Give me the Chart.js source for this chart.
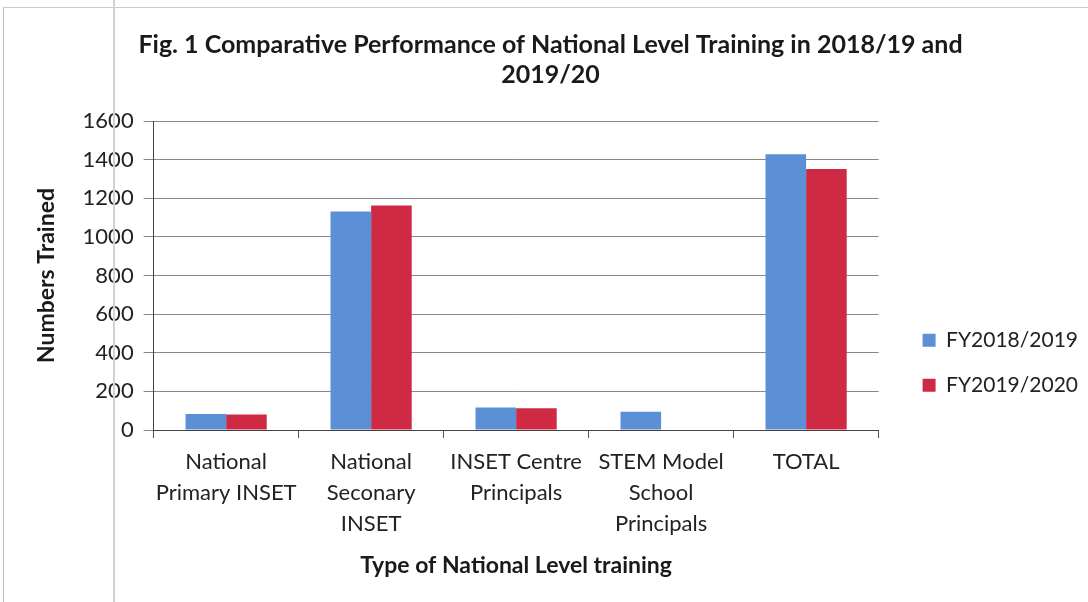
<!DOCTYPE html>
<html>
<head>
<meta charset="utf-8">
<script src="https://cdn.jsdelivr.net/npm/chart.js@4"></script>
<style>
  html, body { margin: 0; padding: 0; background: #fff; }
  #wrap { position: relative; width: 1088px; height: 602px; }
  #frame { position: absolute; left: 3px; top: 7px; width: 1085px; height: 600px; border-left: 1px solid #bbb; border-top: 1px solid #ccc; box-sizing: border-box; pointer-events: none; }
  #scan { position: absolute; left: 113px; top: 0; width: 2px; height: 602px; background: #d8cfd6; pointer-events: none; }
</style>
</head>
<body>
<div id="wrap">
  <canvas id="outputChart" width="1088" height="602"></canvas>
  <div id="frame"></div>
  <div id="scan"></div>
</div>
<script>
const categories = [
  ["National", "Primary INSET"],
  ["National", "Seconary", "INSET"],
  ["INSET Centre", "Principals"],
  ["STEM Model", "School", "Principals"],
  ["TOTAL"]
];
const fy2018 = [83, 1131, 116, 95, 1428];
const fy2019 = [80, 1163, 113, null, 1352];
const yTicks = [0, 200, 400, 600, 800, 1000, 1200, 1400, 1600];

const FONT = "Lato, 'Open Sans', sans-serif";

// push the legend a bit further right of the plot, like the original
const legendNudge = {
  id: "legendNudge",
  afterLayout(chart) {
    const lg = chart.legend;
    if (lg) { lg.left += 20; lg.right += 20; }
  }
};

const context = document.querySelector("#outputChart").getContext("2d");
const outputChart = new Chart(context, {
  type: "bar",
  data: {
    labels: categories,
    datasets: [
      {
        label: "FY2018/2019",
        data: fy2018,
        backgroundColor: "#5b8fd6",
        categoryPercentage: 0.56,
        barPercentage: 1.0
      },
      {
        label: "FY2019/2020",
        data: fy2019,
        backgroundColor: "#cf2a43",
        categoryPercentage: 0.56,
        barPercentage: 1.0
      }
    ]
  },
  plugins: [legendNudge],
  options: {
    responsive: false,
    animation: false,
    layout: { padding: { left: 33, right: 20, top: 14, bottom: 19 } },
    plugins: {
      title: {
        display: true,
        text: ["Fig. 1 Comparative Performance of National Level Training in 2018/19 and", "2019/20"],
        color: "#1a1a1a",
        font: { family: FONT, size: 25, weight: "bold" },
        padding: { top: 16, bottom: 31 },
        lineHeight: 1.2
      },
      legend: {
        position: "right",
        title: { display: true, text: "", padding: 57 },
        labels: {
          color: "#222",
          font: { family: FONT, size: 21 },
          boxWidth: 13,
          boxHeight: 13,
          padding: 24
        }
      },
      tooltip: { enabled: false }
    },
    scales: {
      x: {
        grid: { display: true, drawOnChartArea: false, offset: true, tickLength: 8, color: "#555" },
        border: { color: "#444", width: 1 },
        ticks: {
          color: "#222",
          font: { family: FONT, size: 22, lineHeight: 1.4 },
          maxRotation: 0,
          padding: 9
        },
        title: {
          display: true,
          text: "Type of National Level training",
          color: "#1a1a1a",
          font: { family: FONT, size: 23, weight: "bold" },
          padding: { top: 3 }
        }
      },
      y: {
        min: 0,
        max: 1600,
        afterBuildTicks: (axis) => { axis.ticks = yTicks.map(v => ({ value: v })); },
        grid: { color: "#888", tickLength: 10 },
        border: { color: "#444", width: 1 },
        ticks: {
          color: "#222",
          font: { family: FONT, size: 22 },
          padding: 10,
          callback: (v) => String(v)
        },
        title: {
          display: true,
          text: "Numbers Trained",
          color: "#1a1a1a",
          font: { family: FONT, size: 23, weight: "bold" },
          padding: { top: 0, bottom: 12 }
        }
      }
    }
  }
});
</script>
</body>
</html>
